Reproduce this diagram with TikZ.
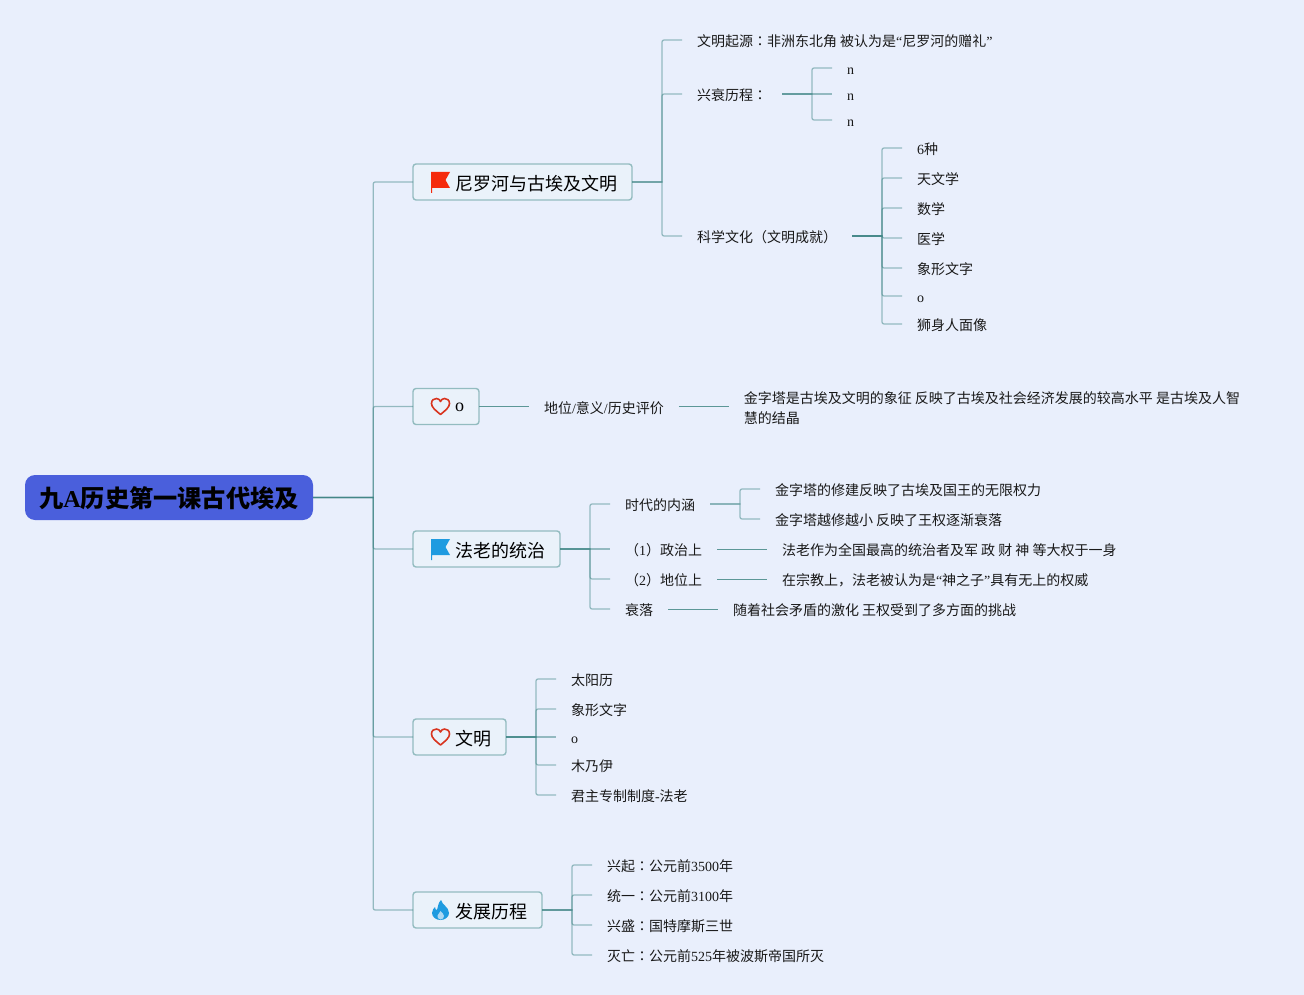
\documentclass[tikz,border=0pt]{standalone}
\usepackage{fontspec}
\usepackage{tikz}
\usetikzlibrary{positioning}
\setmainfont{Liberation Serif}
\newfontfamily\zh{Noto Sans CJK SC}
\newfontfamily\zhmid{Noto Sans CJK TC}
\definecolor{PageBlue}{HTML}{E9EFFC}
\definecolor{RootBlue}{HTML}{4A5FDC}
\definecolor{TopicFill}{HTML}{EAF2FA}
\definecolor{TopicEdge}{HTML}{93BCC0}
\definecolor{LinkTeal}{HTML}{3F8585}
\definecolor{FlagRed}{HTML}{F52A0C}
\definecolor{HeartRed}{HTML}{D8341F}
\definecolor{IconBlue}{HTML}{1E9BE0}
\newcommand{\la}[1]{{\rmfamily #1}}
\newcommand{\colonmid}{{\zhmid ：}}
\newcommand{\iconroom}{\hspace*{27pt}}

\begin{document}
\begin{tikzpicture}[
  x=1pt,y=-1pt,
  root/.style={fill=RootBlue,rounded corners=10pt,minimum width=288pt,minimum height=45pt,inner sep=0pt,text height=19pt,text depth=0pt,font=\zh\bfseries\fontsize{24.2}{30}\selectfont},
  topic/.style={draw=TopicEdge,fill=TopicFill,line width=1.4pt,rounded corners=3pt,anchor=west,outer sep=0pt,inner xsep=15pt,inner ysep=0pt,minimum height=36pt,text height=16.6pt,text depth=0pt,font=\zh\fontsize{18}{22}\selectfont},
  leaf/.style={anchor=west,outer sep=0pt,inner xsep=15pt,inner ysep=2pt,text height=13.2pt,text depth=0pt,text=black!90,font=\zh\fontsize{14}{20}\selectfont},
  longleaf/.style={anchor=west,outer sep=0pt,inner xsep=15pt,inner ysep=2pt,align=left,text=black!90,font=\zh\fontsize{14}{20}\selectfont},
  link/.style={draw=LinkTeal,draw opacity=.5,line width=1.3pt},
  soft/.style={rounded corners=2pt},
  plain/.style={draw=LinkTeal!85,line width=.9pt},
  flagicon/.pic={
    \fill[#1] (18,-10) -- (37,-10) -- (32.5,-2) -- (37,6) -- (19,6) -- (19,11) -- (18,11) -- cycle;
  },
  hearticon/.pic={
    \draw[HeartRed,line width=1.6pt,line join=round] (27.5,8) .. controls (22,3.5) and (18.5,0.5) .. (18.5,-3) .. controls (18.5,-6.5) and (21,-8) .. (23.5,-8) .. controls (25.5,-8) and (27,-6.5) .. (27.5,-5) .. controls (28,-6.5) and (29.5,-8) .. (31.5,-8) .. controls (34,-8) and (36.5,-6.5) .. (36.5,-3) .. controls (36.5,0.5) and (33,3.5) .. (27.5,8) -- cycle;
  },
  flameicon/.pic={
    \fill[IconBlue] (28,-10) .. controls (29,-5) and (36,-3) .. (36,3) .. controls (36,7) and (32,10) .. (27.5,10) .. controls (23,10) and (19,7) .. (19,3) .. controls (19,0) and (21,-2) .. (22,-3) .. controls (22,-1) and (23,0) .. (24,0) .. controls (25,-3) and (25,-7) .. (28,-10) -- cycle;
    \fill[TopicFill!70!IconBlue] (27.5,9.5) .. controls (25,9.5) and (24,7) .. (24.5,5.5) .. controls (25,3.5) and (27,3) .. (27.5,1) .. controls (29,3) and (31,4) .. (31,6) .. controls (31,8) and (29.5,9.5) .. (27.5,9.5) -- cycle;
  }
]
\fill[PageBlue] (0,0) rectangle (1304,995);

\node[root] (root) at (169,497.5) {九\la{A}历史第一课古代埃及};
\node[topic] (nile) at (413,182) {\iconroom 尼罗河与古埃及文明};
\node[topic] (pyramid) at (413,406.5) {\iconroom \raisebox{3.5pt}{\la{o}}};
\node[topic] (pharaoh) at (413,549) {\iconroom 法老的统治};
\node[topic] (culture) at (413,737) {\iconroom 文明};
\node[topic] (story) at (413,910) {\iconroom 发展历程};
\pic at (nile.west) {flagicon=FlagRed};
\pic at (pyramid.west) {hearticon};
\pic at (pharaoh.west) {flagicon=IconBlue};
\pic at (culture.west) {hearticon};
\pic at (story.west) {flameicon};

% nile
\node[leaf] (origin) at (682,40) {文明起源\colonmid 非洲东北角 被认为是\la{“}尼罗河的赠礼\la{”}};
\node[leaf] (rise) at (682,94) {兴衰历程\colonmid};
\node[leaf] (science) at (682,236) {科学文化（文明成就）};
\node[leaf] (riseA) at (832,68) {\la{n}};
\node[leaf] (riseB) at (832,94) {\la{n}};
\node[leaf] (riseC) at (832,120) {\la{n}};
\node[leaf] (sciA) at (902,148) {\la{6}种};
\node[leaf] (sciB) at (902,178) {天文学};
\node[leaf] (sciC) at (902,208) {数学};
\node[leaf] (sciD) at (902,238) {医学};
\node[leaf] (sciE) at (902,268) {象形文字};
\node[leaf] (sciF) at (902,296) {\la{o}};
\node[leaf] (sciG) at (902,324) {狮身人面像};

% pyramid
\node[leaf,right=50pt of pyramid] (meaning) {地位\la{/}意义\la{/}历史评价};
\node[longleaf,right=50pt of meaning] (symbol) {\rule{0pt}{16pt}金字塔是古埃及文明的象征 反映了古埃及社会经济发展的较高水平 是古埃及人智\\慧的结晶};

% pharaoh
\node[leaf] (era) at (610,504) {时代的内涵};
\node[leaf] (politics) at (610,549) {（\la{1}）政治上};
\node[leaf] (status) at (610,579) {（\la{2}）地位上};
\node[leaf] (decline) at (610,609) {衰落};
\node[leaf] (eraA) at (760,489) {金字塔的修建反映了古埃及国王的无限权力};
\node[leaf] (eraB) at (760,519) {金字塔越修越小 反映了王权逐渐衰落};
\node[leaf,right=50pt of politics] (politicsA) {法老作为全国最高的统治者及军 政 财 神 等大权于一身};
\node[leaf,right=50pt of status] (statusA) {在宗教上，法老被认为是\la{“}神之子\la{”}具有无上的权威};
\node[leaf,right=50pt of decline] (declineA) {随着社会矛盾的激化 王权受到了多方面的挑战};

% culture
\node[leaf] (calendar) at (556,679) {太阳历};
\node[leaf] (glyph) at (556,709) {象形文字};
\node[leaf] (cultureO) at (556,737) {\la{o}};
\node[leaf] (mummy) at (556,765) {木乃伊};
\node[leaf] (monarch) at (556,795) {君主专制制度\la{-}法老};

% story
\node[leaf] (storyA) at (592,865) {兴起\colonmid 公元前\la{3500}年};
\node[leaf] (storyB) at (592,895) {统一\colonmid 公元前\la{3100}年};
\node[leaf] (storyC) at (592,925) {兴盛\colonmid 国特摩斯三世};
\node[leaf] (storyD) at (592,955) {灭亡\colonmid 公元前\la{525}年被波斯帝国所灭};

\draw[link] (root.east) -- ++(60,0) [soft] |- (nile.west);
\draw[link] (root.east) -- ++(60,0) [soft] |- (pyramid.west);
\draw[link] (root.east) -- ++(60,0) [soft] |- (pharaoh.west);
\draw[link] (root.east) -- ++(60,0) [soft] |- (culture.west);
\draw[link] (root.east) -- ++(60,0) [soft] |- (story.west);

\draw[link] (nile.east) -- ++(30,0) [soft] |- (origin.west);
\draw[link] (nile.east) -- ++(30,0) [soft] |- (rise.west);
\draw[link] (nile.east) -- ++(30,0) [soft] |- (science.west);
\draw[link] (rise.east) -- ++(30,0) [soft] |- (riseA.west);
\draw[link] (rise.east) -- (riseB.west);
\draw[link] (rise.east) -- ++(30,0) [soft] |- (riseC.west);
\draw[link] (science.east) -- ++(30,0) [soft] |- (sciA.west);
\draw[link] (science.east) -- ++(30,0) [soft] |- (sciB.west);
\draw[link] (science.east) -- ++(30,0) [soft] |- (sciC.west);
\draw[link] (science.east) -- ++(30,0) [soft] |- (sciD.west);
\draw[link] (science.east) -- ++(30,0) [soft] |- (sciE.west);
\draw[link] (science.east) -- ++(30,0) [soft] |- (sciF.west);
\draw[link] (science.east) -- ++(30,0) [soft] |- (sciG.west);

\draw[plain] (pyramid) -- (meaning);
\draw[plain] (meaning) -- (symbol);

\draw[link] (pharaoh.east) -- ++(30,0) [soft] |- (era.west);
\draw[link] (pharaoh.east) -- (politics.west);
\draw[link] (pharaoh.east) -- ++(30,0) [soft] |- (status.west);
\draw[link] (pharaoh.east) -- ++(30,0) [soft] |- (decline.west);
\draw[link] (era.east) -- ++(30,0) [soft] |- (eraA.west);
\draw[link] (era.east) -- ++(30,0) [soft] |- (eraB.west);
\draw[plain] (politics) -- (politicsA);
\draw[plain] (status) -- (statusA);
\draw[plain] (decline) -- (declineA);

\draw[link] (culture.east) -- ++(30,0) [soft] |- (calendar.west);
\draw[link] (culture.east) -- ++(30,0) [soft] |- (glyph.west);
\draw[link] (culture.east) -- (cultureO.west);
\draw[link] (culture.east) -- ++(30,0) [soft] |- (mummy.west);
\draw[link] (culture.east) -- ++(30,0) [soft] |- (monarch.west);

\draw[link] (story.east) -- ++(30,0) [soft] |- (storyA.west);
\draw[link] (story.east) -- ++(30,0) [soft] |- (storyB.west);
\draw[link] (story.east) -- ++(30,0) [soft] |- (storyC.west);
\draw[link] (story.east) -- ++(30,0) [soft] |- (storyD.west);
\end{tikzpicture}
\end{document}
